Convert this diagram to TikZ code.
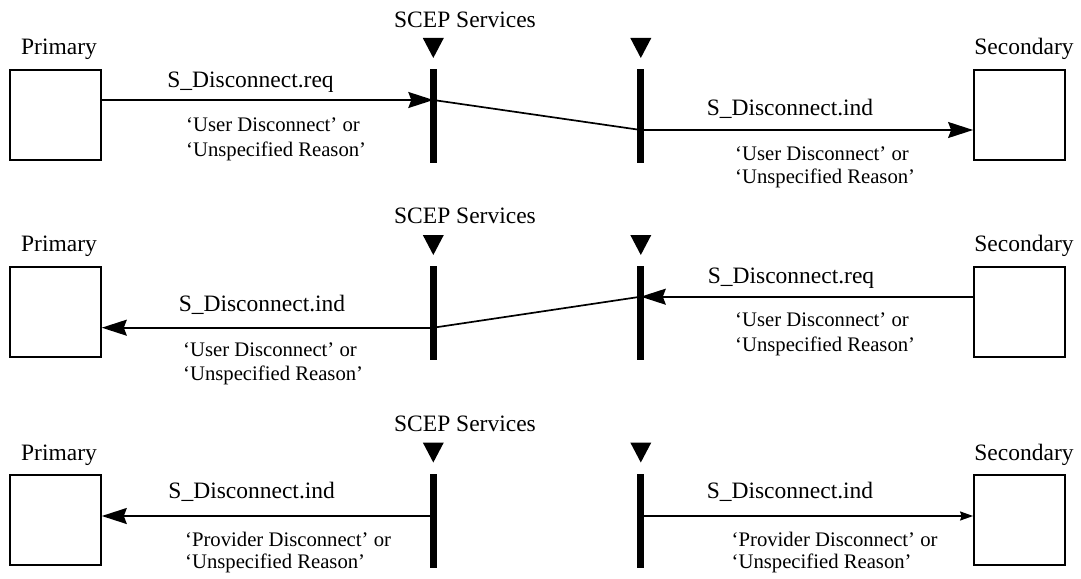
\documentclass[tikz,border=0pt]{standalone}
\usepackage{fontspec}
\setmainfont{Liberation Serif}
\usetikzlibrary{arrows.meta}
\begin{document}
\begin{tikzpicture}[x=1pt,y=-1pt,
  ent/.style={draw,line width=1.8pt,minimum width=91pt,minimum height=90.3pt,inner sep=0},
  bar/.style={fill=black,minimum width=7pt,minimum height=94pt,inner sep=0,outer sep=0},
  big/.style={inner sep=0,anchor=base,font=\fontsize{23.5}{28}\selectfont},
  small/.style={inner sep=0,anchor=base west,font=\fontsize{20.7}{24}\selectfont},
  msg/.style={line width=1.7pt},
  arr/.style={msg,-{Stealth[length=25pt,width=16pt,inset=3pt]}},
  arrs/.style={msg,-{Stealth[length=13pt,width=9pt,inset=1.5pt]}},
  tri/.style={fill=black}
]
\useasboundingbox (0,0) rectangle (1081,578);

% ---------------- Row 1 ----------------
\node[ent] (p1) at (55.4,115) {};
\node[ent] (s1) at (1019.5,115) {};
\node[big] (p1t) at (59,55) {Primary};
\node[big] (s1t) at (1024,55) {Secondary};
\node[big] (sc1) at (465,27.3) {SCEP Services};
\node[bar] (b11) at (433.3,116) {};
\node[bar] (b12) at (640.8,116) {};
\fill[tri] (422.8,38) -- (443.8,38) -- (433.3,58) -- cycle;
\fill[tri] (630.3,38) -- (651.3,38) -- (640.8,58) -- cycle;
\coordinate (r1a) at (433.3,100);
\coordinate (r1b) at (640.8,130);
\draw[arr] (p1.east |- r1a) -- (r1a);
\draw[msg] (r1a) -- (r1b);
\draw[arr] (r1b) -- (s1.west |- r1b);
\node[big] (m11) at (250.5,88) {S\_Disconnect.req};
\node[small] (q11a) at (186,131.7) {‘User Disconnect’ or};
\node[small] (q11b) at (186,156.2) {‘Unspecified Reason’};
\node[big] (m12) at (790,115) {S\_Disconnect.ind};
\node[small] (q12a) at (735,160) {‘User Disconnect’ or};
\node[small] (q12b) at (735,183) {‘Unspecified Reason’};

% ---------------- Row 2 ----------------
\node[ent] (p2) at (55.4,311.9) {};
\node[ent] (s2) at (1019.5,311.9) {};
\node[big] (p2t) at (59,251.7) {Primary};
\node[big] (s2t) at (1024,251.7) {Secondary};
\node[big] (sc2) at (465,223) {SCEP Services};
\node[bar] (b21) at (433.3,313) {};
\node[bar] (b22) at (640.8,313) {};
\fill[tri] (422.8,235) -- (443.8,235) -- (433.3,255) -- cycle;
\fill[tri] (630.3,235) -- (651.3,235) -- (640.8,255) -- cycle;
\coordinate (r2a) at (433.3,327.7);
\coordinate (r2b) at (640.8,296.7);
\draw[arr] (s2.west |- r2b) -- (r2b);
\draw[msg] (r2b) -- (r2a);
\draw[arr] (r2a) -- (p2.east |- r2a);
\node[big] (m21) at (262,311.7) {S\_Disconnect.ind};
\node[small] (q21a) at (183,356.7) {‘User Disconnect’ or};
\node[small] (q21b) at (183,380) {‘Unspecified Reason’};
\node[big] (m22) at (791,283.3) {S\_Disconnect.req};
\node[small] (q22a) at (735,326.7) {‘User Disconnect’ or};
\node[small] (q22b) at (735,351.7) {‘Unspecified Reason’};

% ---------------- Row 3 ----------------
\node[ent] (p3) at (55.4,519.9) {};
\node[ent] (s3) at (1019.5,519.9) {};
\node[big] (p3t) at (59,460) {Primary};
\node[big] (s3t) at (1024,460) {Secondary};
\node[big] (sc3) at (465,431.7) {SCEP Services};
\node[bar] (b31) at (433.3,521) {};
\node[bar] (b32) at (640.8,521) {};
\fill[tri] (422.8,442.5) -- (443.8,442.5) -- (433.3,462.5) -- cycle;
\fill[tri] (630.3,442.5) -- (651.3,442.5) -- (640.8,462.5) -- cycle;
\coordinate (r3a) at (433.3,516);
\coordinate (r3b) at (640.8,516);
\draw[arr] (r3a) -- (p3.east |- r3a);
\draw[arrs] (r3b) -- (s3.west |- r3b);
\node[big] (m31) at (251.7,498.3) {S\_Disconnect.ind};
\node[small] (q31a) at (185,546.7) {‘Provider Disconnect’ or};
\node[small] (q31b) at (185,568.3) {‘Unspecified Reason’};
\node[big] (m32) at (790,498.3) {S\_Disconnect.ind};
\node[small] (q32a) at (731.5,546.7) {‘Provider Disconnect’ or};
\node[small] (q32b) at (731.5,568.3) {‘Unspecified Reason’};
\end{tikzpicture}
\end{document}
